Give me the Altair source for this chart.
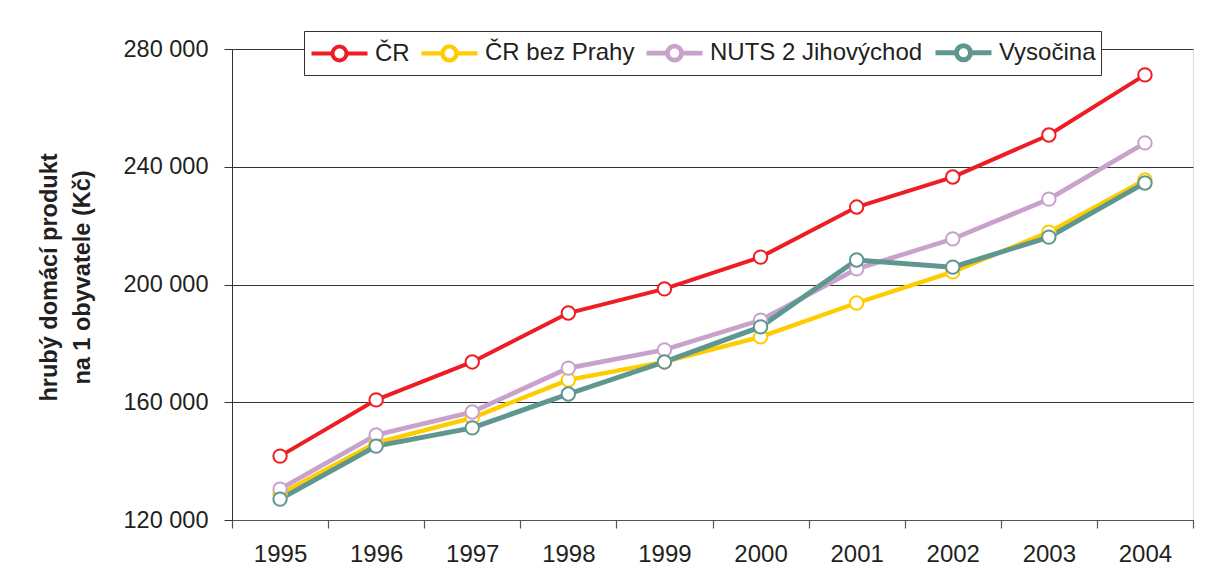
import altair as alt
import pandas as pd

years = ["1995", "1996", "1997", "1998", "1999", "2000", "2001", "2002", "2003", "2004"]
series_names = ["ČR", "ČR bez Prahy", "NUTS 2 Jihovýchod", "Vysočina"]
cr = [141700, 160800, 173700, 190300, 198500, 209300, 226300, 236500, 250800, 271200]
cr_bez_prahy = [128800, 146200, 154700, 167600, 173700, 182200, 193700, 204300, 217800, 235500]
nuts2_jv = [130500, 148900, 156700, 171600, 177800, 187900, 205300, 215500, 229000, 248100]
vysocina = [127100, 145100, 151300, 162800, 173700, 185600, 208300, 205900, 216100, 234500]
y_ticks = [120000, 160000, 200000, 240000, 280000]

colors = ["#EE1D23", "#FFCC00", "#C9A2CC", "#5E9690"]
widths = [4, 5, 5, 5]

rows = []
for name, vals in zip(series_names, [cr, cr_bez_prahy, nuts2_jv, vysocina]):
    for yr, v in zip(years, vals):
        rows.append({"rok": yr, "serie": name, "hdp": v})
df = pd.DataFrame(rows)

FONT = "Liberation Sans"
TXT = "#231F20"

# legend glyph: line - open circle - line, drawn rightwards from the symbol's left edge
legend_path = ("M-1,0H0.5M1.5,0H3"
               "M1.5,0A0.5,0.5,0,1,1,0.5,0A0.5,0.5,0,1,1,1.5,0Z")

x_enc = alt.X(
    "rok:O",
    sort=years,
    scale=alt.Scale(type="band", paddingInner=0, paddingOuter=0),
    axis=alt.Axis(
        title=None, labelAngle=0, tickBand="extent", tickSize=8,
        labelFontSize=24, labelFont=FONT, labelColor=TXT, labelPadding=14,
        domainColor="#555", tickColor="#555", domainWidth=1.2, tickWidth=1.2,
    ),
)
y_enc = alt.Y(
    "hdp:Q",
    scale=alt.Scale(domain=[120000, 280000], nice=False, zero=False),
    axis=alt.Axis(
        values=y_ticks, grid=True, gridColor="#333", gridWidth=1,
        title=["hrubý domácí produkt", "na 1 obyvatele (Kč)"],
        titleFont=FONT, titleFontSize=23.5, titleFontWeight="bold", titleColor=TXT,
        titleAngle=-90, titleAlign="center", titleBaseline="top",
        titleX=-195, titleY=228, titleLineHeight=33,
        labelFontSize=23.5, labelFont=FONT, labelColor=TXT, labelPadding=16,
        tickSize=8, tickColor="#333", domainColor="#333",
        labelExpr="replace(format(datum.value, ','), ',', ' ')",
    ),
)

lines = alt.Chart(df).mark_line().encode(
    x=x_enc,
    y=y_enc,
    color=alt.Color(
        "serie:N",
        sort=series_names,
        scale=alt.Scale(domain=series_names, range=colors),
        legend=alt.Legend(
            title=None, orient="none", legendX=72, legendY=-18,
            direction="horizontal", columns=4,
            symbolType=legend_path, symbolSize=784, symbolStrokeWidth=3.5,
            symbolFillColor="white",
            labelFont=FONT, labelFontSize=24, labelColor=TXT, labelOffset=33,
            labelLimit=400,
            columnPadding=2, padding=5,
            strokeColor="#333", fillColor="white",
        ),
    ),
    strokeWidth=alt.StrokeWidth(
        "serie:N", scale=alt.Scale(domain=series_names, range=widths), legend=None
    ),
)

points = alt.Chart(df).mark_point(shape="circle", filled=False, fill="white",
                                  fillOpacity=1, opacity=1, size=180,
                                  strokeWidth=2).encode(
    x=x_enc,
    y=y_enc,
    stroke=alt.Stroke("serie:N", scale=alt.Scale(domain=series_names, range=colors),
                      legend=None),
)

chart = alt.layer(lines, points).properties(
    width=961, height=471,
    autosize=alt.AutoSizeParams(type="none"),
    padding={"left": 224, "top": 41, "right": 10, "bottom": 45},
).configure_view(stroke="#888", strokeWidth=1.5).configure(background="white")

chart.save("out.html", embed_options={"renderer": "svg", "actions": False})
